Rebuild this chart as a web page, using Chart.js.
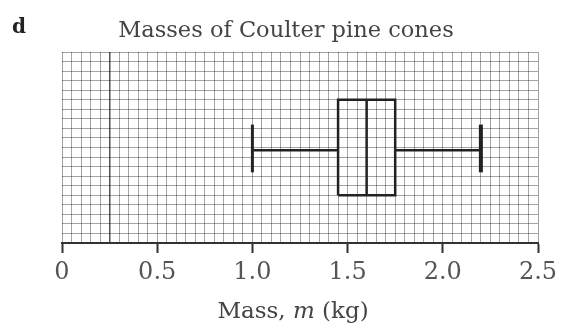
<!DOCTYPE html>
<html>

<head>
    <title>Masses of Coulter pine cones</title>
    <script src="https://cdn.jsdelivr.net/npm/chart.js"></script>
    <style>
        body { margin: 0; background: #fff; }
        #wrap { width: 561px; height: 324px; }
    </style>
</head>

<body>
    <div id="wrap">
        <canvas id="myChart" width="561" height="324"></canvas>
    </div>

    <script>
        // five-number summary (kg)
        var minMass = 1.0;
        var q1Mass = 1.45;
        var medianMass = 1.6;
        var q3Mass = 1.75;
        var maxMass = 2.2;

        // axis
        var xTickLabels = ['0', '0.5', '1.0', '1.5', '2.0', '2.5'];
        var xMin = 0, xMax = 2.5, gridStep = 0.05;

        // vertical extent of the drawing (grid squares)
        var boxLow = 5, boxHigh = 15, whiskerY = 9.7, capLow = 7.4, capHigh = 12.4;

        var serif = '"DejaVu Serif", "Liberation Serif", serif';

        function seg(points, width) {
            return {
                data: points,
                showLine: true,
                borderColor: '#222',
                borderWidth: width,
                pointRadius: 0,
                fill: false
            };
        }

        var datasets = [
            seg([{ x: q1Mass, y: boxLow }, { x: q3Mass, y: boxLow }, { x: q3Mass, y: boxHigh },
                 { x: q1Mass, y: boxHigh }, { x: q1Mass, y: boxLow }], 2.5),
            seg([{ x: medianMass, y: boxLow }, { x: medianMass, y: boxHigh }], 2.5),
            seg([{ x: minMass, y: whiskerY }, { x: q1Mass, y: whiskerY }], 2.5),
            seg([{ x: q3Mass, y: whiskerY }, { x: maxMass, y: whiskerY }], 2.5),
            seg([{ x: minMass, y: capLow }, { x: minMass, y: capHigh }], 3),
            seg([{ x: maxMass, y: capLow }, { x: maxMass, y: capHigh }], 4)
        ];

        function isMajor(v) {
            return Math.round(v / gridStep) % 10 === 0;
        }

        // title, panel letter and axis label with italic m
        var textPlugin = {
            id: 'texts',
            afterDraw: function (chart) {
                var c = chart.ctx;
                c.save();
                c.textBaseline = 'alphabetic';
                c.fillStyle = '#222';
                c.font = 'bold 20px ' + serif;
                c.textAlign = 'left';
                c.fillText('d', 12, 33);

                c.fillStyle = '#444';
                c.font = '22.5px ' + serif;
                c.textAlign = 'center';
                c.fillText('Masses of Coulter pine cones', 286, 37);

                // axis title
                var parts = [['Mass, ', '23px ' + serif], ['m', 'italic 23px ' + serif], [' (kg)', '23px ' + serif]];
                var total = 0;
                parts.forEach(function (p) { c.font = p[1]; total += c.measureText(p[0]).width; });
                var x = 293 - total / 2;
                c.textAlign = 'left';
                parts.forEach(function (p) {
                    c.font = p[1];
                    c.fillText(p[0], x, 318);
                    x += c.measureText(p[0]).width;
                });
                c.restore();
            }
        };

        var ctx = document.getElementById('myChart').getContext('2d');

        var myChart = new Chart(ctx, {
            type: 'scatter',
            data: { datasets: datasets },
            plugins: [textPlugin],
            options: {
                responsive: false,
                animation: false,
                layout: { padding: { left: 62, right: 23, top: 52, bottom: 0 } },
                plugins: { legend: { display: false }, tooltip: { enabled: false } },
                scales: {
                    x: {
                        type: 'linear',
                        min: xMin,
                        max: xMax,
                        afterBuildTicks: function (scale) {
                            var t = [];
                            for (var i = 0; i <= Math.round((xMax - xMin) / gridStep); i++) {
                                t.push({ value: xMin + i * gridStep });
                            }
                            scale.ticks = t;
                        },
                        afterFit: function (scale) {
                            scale.height = 81;
                            scale.paddingLeft = 0;
                            scale.paddingRight = 0;
                        },
                        ticks: {
                            autoSkip: false,
                            maxRotation: 0,
                            padding: 5,
                            color: '#555',
                            font: { family: serif, size: 24 },
                            callback: function (v) {
                                if (!isMajor(v)) return '';
                                return xTickLabels[Math.round(v / 0.5)];
                            }
                        },
                        grid: {
                            lineWidth: function (c) {
                                return Math.abs(c.tick.value - 0.25) < 1e-6 ? 1.5 : 1;
                            },
                            color: function (c) {
                                return Math.abs(c.tick.value - 0.25) < 1e-6 ? '#555' : 'rgba(0,0,0,0.36)';
                            },
                            tickColor: function (c) {
                                return isMajor(c.tick.value) ? '#333' : 'rgba(0,0,0,0)';
                            },
                            tickLength: 10,
                            tickWidth: 2
                        },
                        border: { display: true, color: '#333', width: 2 }
                    },
                    y: {
                        type: 'linear',
                        min: 0,
                        max: 20,
                        afterFit: function (scale) { scale.width = 0; },
                        ticks: { stepSize: 1, display: false },
                        grid: { color: 'rgba(0,0,0,0.36)', drawTicks: false },
                        border: { display: false }
                    }
                }
            }
        });
    </script>

</body>

</html>
